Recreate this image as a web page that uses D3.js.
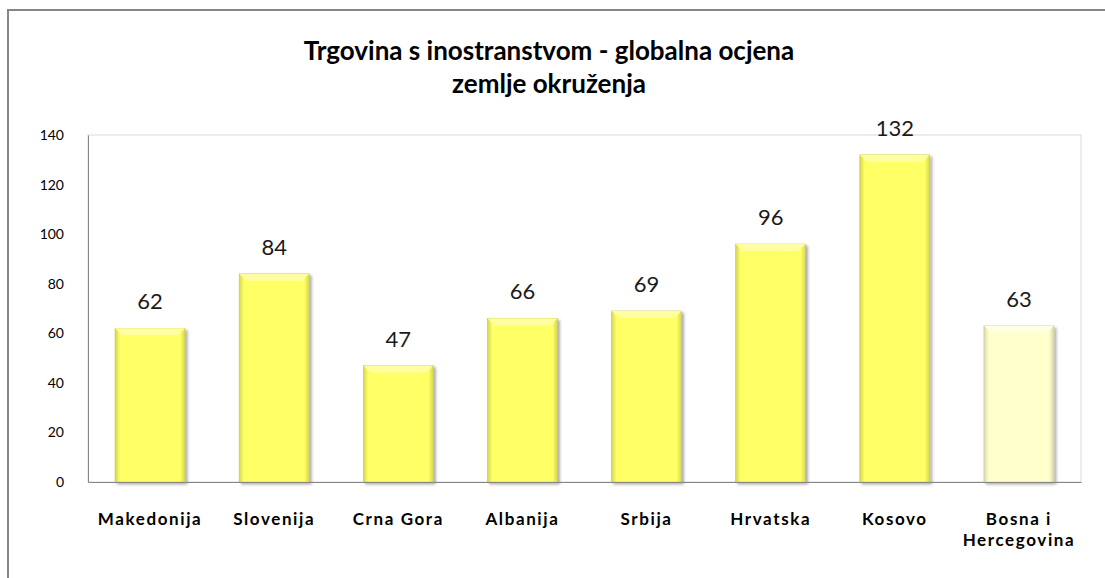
<!DOCTYPE html>
<html>
<head>
<meta charset="utf-8">
<script src="https://cdn.jsdelivr.net/npm/d3@7"></script>
<style>
  body { margin: 0; background: #fff; }
  text { font-family: Lato, "Open Sans", sans-serif; }
</style>
</head>
<body>
<div id="chart"></div>
<script>
// data
var countries = ["Makedonija", "Slovenija", "Crna Gora", "Albanija", "Srbija", "Hrvatska", "Kosovo", "Bosna i Hercegovina"];
var scores = [62, 84, 47, 66, 69, 96, 132, 63];
var yTicks = [0, 20, 40, 60, 80, 100, 120, 140];
var titleLines = ["Trgovina s inostranstvom - globalna ocjena", "zemlje okruženja"];

var width = 1105, height = 578;
var plot = {left: 88, right: 1081, top: 135, bottom: 482};

var svg = d3.select("#chart").append("svg")
    .attr("width", width)
    .attr("height", height);

var defs = svg.append("defs");

function barGradient(id, mid, edge) {
  var g = defs.append("linearGradient").attr("id", id)
      .attr("x1", "0%").attr("x2", "100%").attr("y1", "0%").attr("y2", "0%");
  g.append("stop").attr("offset", "0%").attr("stop-color", edge);
  g.append("stop").attr("offset", "7%").attr("stop-color", mid);
  g.append("stop").attr("offset", "93%").attr("stop-color", mid);
  g.append("stop").attr("offset", "100%").attr("stop-color", edge);
}
barGradient("bar-yellow", "#ffff66", "#d6d650");
barGradient("bar-pale", "#ffffcc", "#d9d9ad");

var shadow = defs.append("filter").attr("id", "shadow")
    .attr("x", "-10%").attr("y", "-10%").attr("width", "130%").attr("height", "130%");
shadow.append("feGaussianBlur").attr("in", "SourceAlpha").attr("stdDeviation", 1.6);
shadow.append("feOffset").attr("dx", 2).attr("dy", 2).attr("result", "off");
shadow.append("feComponentTransfer").append("feFuncA").attr("type", "linear").attr("slope", 0.35);
var merge = shadow.append("feMerge");
merge.append("feMergeNode");
merge.append("feMergeNode").attr("in", "SourceGraphic");

// outer chart border
svg.append("rect")
    .attr("x", 8).attr("y", 10)
    .attr("width", 1110).attr("height", 580)
    .attr("fill", "none")
    .attr("stroke", "#868686")
    .attr("stroke-width", 2);

// title
svg.append("g").selectAll("text")
    .data(titleLines)
  .enter().append("text")
    .attr("x", 549)
    .attr("y", function(d, i) { return 60 + i * 33; })
    .attr("text-anchor", "middle")
    .style("font-size", "26px")
    .style("font-weight", "bold")
    .style("fill", "#000")
    .text(function(d) { return d; });

var x = d3.scaleBand()
    .domain(countries)
    .range([plot.left, plot.right])
    .paddingInner(0.436)
    .paddingOuter(0.218);

var y = d3.scaleLinear()
    .domain([0, 140])
    .range([plot.bottom, plot.top]);

// plot area frame
svg.append("rect")
    .attr("x", plot.left).attr("y", plot.top)
    .attr("width", plot.right - plot.left)
    .attr("height", plot.bottom - plot.top)
    .attr("fill", "none")
    .attr("stroke", "#d9d9d9")
    .attr("stroke-width", 1);

// y axis labels
var yAxis = d3.axisLeft(y).tickValues(yTicks).tickSize(0).tickPadding(24);
var gy = svg.append("g")
    .attr("transform", "translate(" + plot.left + ",0)")
    .call(yAxis);
gy.select(".domain").attr("stroke", "#868686");
gy.selectAll("text")
    .style("font-family", "Lato, sans-serif")
    .style("font-size", "14px")
    .style("fill", "#000");

// bars
var bars = svg.append("g").selectAll("g")
    .data(countries)
  .enter().append("g");

bars.append("rect")
    .attr("x", function(d) { return x(d); })
    .attr("y", function(d, i) { return y(scores[i]); })
    .attr("width", x.bandwidth())
    .attr("height", function(d, i) { return y(0) - y(scores[i]); })
    .attr("fill", function(d, i) { return i === countries.length - 1 ? "url(#bar-pale)" : "url(#bar-yellow)"; })
    .attr("stroke", function(d, i) { return i === countries.length - 1 ? "#c8c8a0" : "#c9c945"; })
    .attr("stroke-width", 0.6)
    .attr("filter", "url(#shadow)");

// top bevel highlight
bars.append("path")
    .attr("d", function(d, i) {
      var x0 = x(d), x1 = x(d) + x.bandwidth(), t = y(scores[i]), b = 7;
      return "M" + x0 + "," + t + "L" + x1 + "," + t + "L" + (x1 - b) + "," + (t + b) + "L" + (x0 + b) + "," + (t + b) + "Z";
    })
    .attr("fill", function(d, i) { return i === countries.length - 1 ? "#ffffe6" : "#ffffa8"; })
    .attr("opacity", 0.9);

// value labels
bars.append("text")
    .attr("x", function(d) { return x(d) + x.bandwidth() / 2; })
    .attr("y", function(d, i) { return y(scores[i]) - 19; })
    .attr("text-anchor", "middle")
    .style("font-size", "22px")
    .style("fill", "#1a1a1a")
    .text(function(d, i) { return scores[i]; });

// x axis line and labels
var gx = svg.append("g")
    .attr("transform", "translate(0," + plot.bottom + ")")
    .call(d3.axisBottom(x).tickSize(0).tickFormat(""));
gx.select(".domain").attr("stroke", "#868686");

var xl = svg.append("g").selectAll("text")
    .data(countries)
  .enter().append("text")
    .attr("x", function(d) { return x(d) + x.bandwidth() / 2; })
    .attr("y", 525)
    .attr("text-anchor", "middle")
    .style("font-size", "17px")
    .style("font-weight", "bold")
    .style("letter-spacing", "1.6px")
    .style("fill", "#000");

xl.each(function(d) {
  var el = d3.select(this);
  var lines = d === "Bosna i Hercegovina" ? ["Bosna i", "Hercegovina"] : [d];
  lines.forEach(function(l, j) {
    el.append("tspan")
      .attr("x", x(d) + x.bandwidth() / 2)
      .attr("dy", j === 0 ? 0 : 21)
      .text(l);
  });
});
</script>
</body>
</html>
